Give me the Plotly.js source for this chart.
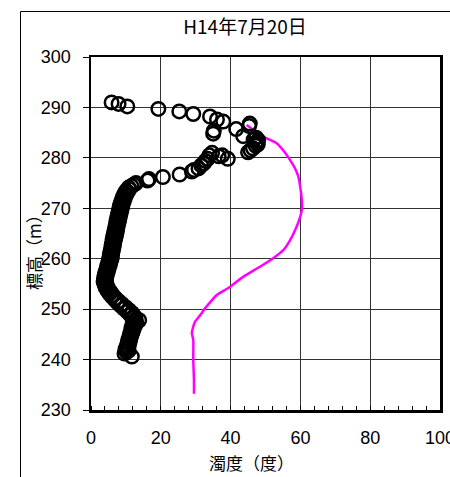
<!DOCTYPE html>
<html>
<head>
<meta charset="utf-8">
<script src="https://cdn.plot.ly/plotly-3.0.1.min.js"></script>
<style>
html,body{margin:0;padding:0;background:#fff;}
#chart{width:450px;height:477px;}
</style>
</head>
<body>
<div id="chart"></div>
<script>
// ---- data ----
const chartTitle = "H14年7月20日";
const xAxisTitle = "濁度（度）";
const yAxisTitle = "標高（m）";
const xTickVals = [0, 20, 40, 60, 80, 100];
const yTickVals = [230, 240, 250, 260, 270, 280, 290, 300];

// observed turbidity (open circles)
const obsTurbidity = [
 11.7, 9.6, 10.2, 10.8, 9.9, 10.6, 10.3, 10.9, 10.5, 11.1,
 10.7, 11.3, 11.0, 11.6, 11.2, 11.9, 11.5, 12.2, 11.6, 12.5,
 11.9, 13.0, 12.3, 13.8, 12.8, 11.9, 12.4, 11.2, 11.8, 10.4,
 10.9, 9.4, 9.9, 8.5, 8.9, 7.6, 7.9, 6.8, 7.0, 6.0,
 6.2, 5.3, 5.6, 4.7, 5.0, 4.2, 4.6, 3.9, 4.3, 3.6,
 4.3, 3.7, 4.4, 3.9, 4.6, 4.1, 4.9, 4.4, 5.1, 4.6,
 5.4, 4.9, 5.6, 5.1, 5.9, 5.3, 6.0, 5.4, 6.1, 5.6,
 6.3, 5.8, 6.5, 5.9, 6.6, 6.1, 6.8, 6.2, 7.0, 6.4,
 7.2, 6.6, 7.4, 6.8, 7.5, 7.0, 7.7, 7.2, 7.9, 7.3,
 8.1, 7.5, 8.3, 7.7, 8.5, 7.9, 8.7, 8.1, 8.9, 8.3,
 9.1, 8.6, 9.4, 8.9, 9.7, 9.2, 10.0, 9.6, 10.5, 10.1,
 11.0, 10.8, 11.6, 12.3, 12.9, 16.2, 16.6, 20.6, 25.4, 28.9,
 29.5, 30.8, 31.6, 32.3, 32.8, 33.4, 33.9, 34.7, 36.6, 37.6,
 39.2, 45.0, 45.7, 46.4, 47.2, 47.8, 47.6, 47.9, 46.6, 47.3,
 43.6, 45.3, 45.5, 41.6, 35.0, 35.2, 37.9, 36.1, 34.1, 29.3,
 25.3, 19.3, 10.4, 7.9, 5.9
];
const obsElevation = [
 240.6, 241.2, 241.5, 241.8, 242.1, 242.4, 242.7, 243.0, 243.3, 243.6,
 243.9, 244.2, 244.5, 244.8, 245.1, 245.4, 245.7, 246.0, 246.3, 246.6,
 246.9, 247.2, 247.5, 247.8, 248.0, 248.3, 248.6, 248.9, 249.2, 249.5,
 249.8, 250.1, 250.4, 250.7, 251.0, 251.3, 251.6, 251.9, 252.2, 252.5,
 252.8, 253.1, 253.4, 253.7, 254.0, 254.3, 254.6, 254.9, 255.2, 255.5,
 255.8, 256.1, 256.4, 256.7, 257.0, 257.3, 257.6, 257.9, 258.2, 258.5,
 258.8, 259.1, 259.4, 259.7, 260.0, 260.3, 260.6, 260.9, 261.2, 261.5,
 261.8, 262.1, 262.4, 262.7, 263.0, 263.3, 263.6, 263.9, 264.2, 264.5,
 264.8, 265.1, 265.4, 265.7, 266.0, 266.3, 266.6, 266.9, 267.2, 267.5,
 267.8, 268.1, 268.4, 268.7, 269.0, 269.3, 269.6, 269.9, 270.2, 270.5,
 270.8, 271.1, 271.4, 271.7, 272.0, 272.3, 272.6, 272.9, 273.2, 273.5,
 273.8, 274.1, 274.4, 274.7, 275.0, 275.5, 275.8, 276.2, 276.7, 277.3,
 277.6, 277.9, 278.5, 278.9, 279.4, 279.8, 280.5, 281.0, 280.3, 280.5,
 279.8, 281.1, 281.5, 281.9, 282.4, 282.7, 283.1, 283.5, 283.6, 284.0,
 284.3, 286.3, 286.8, 285.7, 284.8, 285.4, 287.2, 287.6, 288.2, 288.7,
 289.2, 289.7, 290.2, 290.7, 291.0
];

// computed turbidity profile (magenta line)
const calcTurbidity = [
 29.5, 29.5, 29.3, 29.3, 28.9, 29.2, 29.8, 31.5, 32.7, 34.3,
 36.0, 39.8, 43.6, 48.4, 52.2, 55.1, 56.9, 58.5, 59.7, 60.4,
 60.4, 60.0, 59.4, 58.4, 57.0, 55.3, 53.2, 49.0, 46.5, 44.6
];
const calcElevation = [
 233.2, 236.0, 240.0, 243.9, 245.2, 246.3, 247.5, 249.0, 250.2, 251.5,
 252.8, 254.4, 256.4, 258.4, 260.1, 261.7, 263.5, 265.7, 267.8, 269.7,
 271.6, 274.0, 276.3, 278.0, 279.6, 281.3, 282.9, 284.3, 285.5, 286.5
];

// ---- chart ----
const cjk = '"Noto Sans CJK JP", "Noto Sans", sans-serif';
const num = '"Liberation Sans", Arial, sans-serif';

const traces = [
  {
    x: calcTurbidity, y: calcElevation, type: 'scatter', mode: 'lines',
    line: {color: '#FF00FF', width: 2.5, shape: 'spline', smoothing: 0.6},
    hoverinfo: 'x+y', showlegend: false
  },
  {
    x: obsTurbidity, y: obsElevation, type: 'scatter', mode: 'markers',
    marker: {symbol: 'circle-open', size: 13.5, color: '#000', line: {width: 2.5, color: '#000'}},
    cliponaxis: false, showlegend: false
  }
];

const layout = {
  width: 450, height: 477,
  margin: {l: 91, r: 10, t: 57, b: 67, pad: 0},
  paper_bgcolor: '#fff', plot_bgcolor: '#fff',
  showlegend: false,
  title: {
    text: chartTitle, font: {family: cjk, size: 19, color: '#000'},
    x: 245 / 450, xanchor: 'center', xref: 'container',
    y: 1 - 27.5 / 477, yanchor: 'middle', yref: 'container'
  },
  xaxis: {
    range: [0, 100], tickvals: xTickVals, ticktext: xTickVals.map(String),
    showgrid: true, gridcolor: '#333', gridwidth: 1,
    zeroline: false, showline: true, linecolor: '#000', linewidth: 2.5, mirror: true,
    ticks: '', ticklabelstandoff: 10, ticklabeloverflow: 'allow',
    minor: {dtick: 4, ticks: 'inside', ticklen: 4, tickcolor: '#000', tickwidth: 1, showgrid: false},
    tickfont: {family: num, size: 18, color: '#000'}
  },
  yaxis: {
    range: [230, 300], tickvals: yTickVals, ticktext: yTickVals.map(String),
    showgrid: true, gridcolor: '#333', gridwidth: 1,
    zeroline: false, showline: true, linecolor: '#000', linewidth: 2.5, mirror: true,
    ticks: 'outside', ticklen: 6, tickcolor: '#000', tickwidth: 1, ticklabelstandoff: 8,
    tickfont: {family: num, size: 18, color: '#000'}
  },
  annotations: [
    {text: xAxisTitle, xref: 'paper', yref: 'paper', x: (251 - 91) / 349, y: (410 - 462) / 353,
     xanchor: 'center', yanchor: 'middle', showarrow: false, font: {family: cjk, size: 17, color: '#000'}},
    {text: yAxisTitle, xref: 'paper', yref: 'paper', x: (33 - 91) / 349, y: (410 - 248) / 353,
     xanchor: 'center', yanchor: 'middle', textangle: -90, showarrow: false, font: {family: cjk, size: 17, color: '#000'}}
  ],
  shapes: [
    {type: 'rect', xref: 'paper', yref: 'paper', x0: (20.5 - 91) / 349, x1: 1.3, y0: -0.3, y1: (410 - 11.5) / 353,
     line: {color: '#000', width: 1}, fillcolor: 'rgba(0,0,0,0)', layer: 'below'}
  ]
};

Plotly.newPlot('chart', traces, layout, {staticPlot: true, displayModeBar: false});
</script>
</body>
</html>
